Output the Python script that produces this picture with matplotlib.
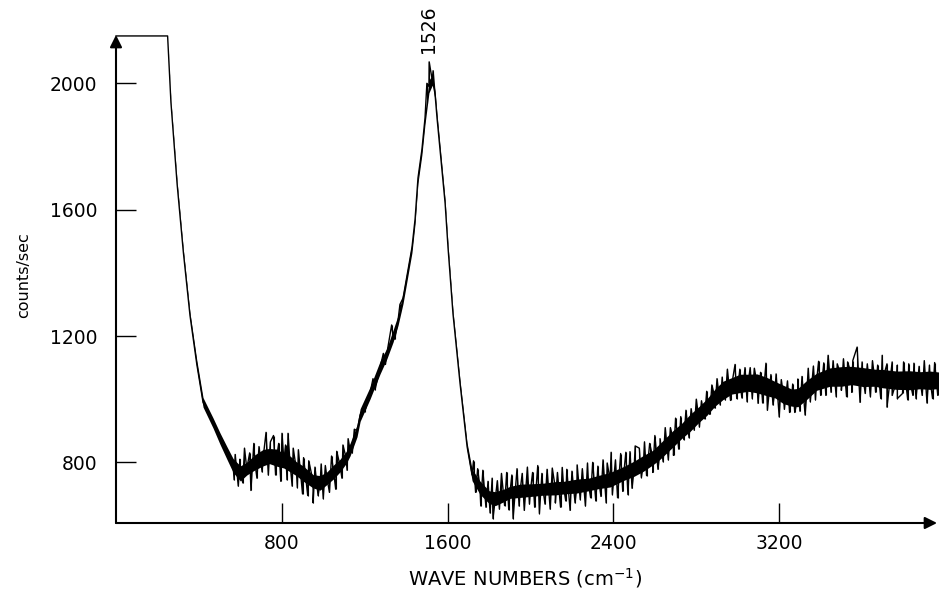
import numpy as np
import matplotlib
matplotlib.use("Agg")
import matplotlib.pyplot as plt

# spectrum: wavenumber (cm-1), mean counts/sec, half-width of the noise core
wn = [0, 249, 265, 295, 325, 357, 390, 420, 468, 502, 535, 565, 600, 631, 670, 710, 740,
      775, 810, 840, 870, 902, 951, 985, 1018, 1050, 1081, 1110, 1129, 1163, 1178, 1226,
      1274, 1307, 1337, 1361, 1385, 1404, 1428, 1443, 1457, 1476, 1491, 1510, 1526, 1540,
      1549, 1573, 1588, 1602, 1626, 1660, 1694, 1718, 1756, 1800, 1830, 1870, 1901, 1950,
      2000, 2060, 2120, 2160, 2224, 2280, 2330, 2384, 2450, 2500, 2545, 2590, 2625, 2688,
      2730, 2770, 2810, 2851, 2890, 2929, 2970, 3011, 3050, 3093, 3140, 3180, 3220, 3260,
      3290, 3334, 3380, 3445, 3500, 3550, 3604, 3660, 3700, 3768, 3830, 3880, 3928, 3971]
counts = [2150, 2150, 1940, 1680, 1465, 1265, 1110, 990, 925, 875, 830, 790, 765, 780, 800,
          815, 820, 815, 805, 795, 780, 765, 740, 735, 750, 770, 790, 815, 840, 900, 950,
          1020, 1100, 1145, 1200, 1250, 1320, 1390, 1480, 1570, 1700, 1790, 1890, 1990,
          2010, 1960, 1890, 1725, 1620, 1480, 1270, 1050, 850, 760, 720, 690, 685, 695, 705,
          710, 712, 715, 718, 720, 725, 730, 738, 745, 765, 780, 797, 815, 835, 875, 900,
          925, 950, 975, 1005, 1028, 1042, 1050, 1052, 1050, 1040, 1030, 1015, 1005, 1005,
          1030, 1055, 1070, 1072, 1075, 1070, 1068, 1065, 1060, 1060, 1060, 1060, 1060]
spread = [0, 0, 6, 8, 8, 9, 13, 15, 16, 18, 20, 22, 24, 20, 24, 26, 24, 27, 23, 25, 22,
          24, 21, 23, 20, 22, 20, 19, 20, 19, 20, 19, 20, 17, 19, 16, 17, 16, 16, 14, 16, 16,
          19, 20, 16, 14, 13, 12, 11, 10, 10, 10, 12, 18, 21, 20, 22, 20, 19, 21, 20, 19, 21,
          20, 22, 20, 21, 23, 22, 24, 25, 23, 25, 26, 24, 27, 25, 26, 27, 29, 26, 29, 27, 30,
          29, 26, 29, 27, 29, 30, 27, 29, 31, 29, 30, 27, 29, 29, 30, 27, 29, 26]

# noise excursions: wavenumber and extreme value
spike_wn = [575, 598, 620, 645, 665, 690, 724, 745, 760, 785, 801, 818, 830, 855, 880, 905,
            930, 960, 990, 1010, 1040, 1065, 1095, 1120,
            570, 590, 612, 651, 680, 705, 735, 770, 795, 825, 850, 875, 900, 925, 951, 975,
            1000, 1030, 1060, 1090, 1115,
            1150, 1190, 1240, 1290, 1330, 1370, 1140, 1200, 1250, 1300, 1345,
            1500, 1511, 1530,
            1725, 1745, 1770, 1795, 1815, 1840, 1860, 1885, 1910, 1935, 1960, 1985, 2010,
            2035, 2055, 2080, 2105, 2130, 2153, 2175, 2200, 2225, 2250, 2275, 2300, 2325,
            2350, 2370, 2389, 2410, 2435, 2460, 2480, 2505,
            1735, 1760, 1785, 1805, 1819, 1850, 1875, 1895, 1916, 1945, 1970, 1995, 2020,
            2043, 2070, 2095, 2120, 2145, 2170, 2191, 2215, 2240, 2265, 2290, 2315, 2340,
            2365, 2395, 2420, 2445, 2470, 2490,
            2525, 2550, 2575, 2600, 2625, 2650, 2675, 2700, 2725, 2750, 2775, 2800, 2825,
            2850, 2875, 2900, 2925, 2950, 2987, 3010, 3035, 3060, 3080, 3110, 3136, 3160,
            3185, 3210, 3240, 3265, 3290, 3310, 3340, 3365, 3390, 3415, 3436, 3460, 3480,
            3510, 3530, 3555, 3576, 3600, 3625, 3650, 3675, 3697, 3720, 3745, 3770, 3800,
            3825, 3850, 3875, 3900, 3925, 3950,
            2535, 2560, 2590, 2615, 2640, 2665, 2690, 2715, 2740, 2765, 2790, 2815, 2840,
            2865, 2890, 2915, 2940, 2965, 2995, 3020, 3045, 3070, 3098, 3120, 3143, 3170,
            3200, 3225, 3250, 3275, 3300, 3325, 3350, 3375, 3400, 3425, 3450, 3475, 3500,
            3525, 3550, 3590, 3615, 3640, 3665, 3690, 3720, 3745, 3770, 3795, 3820, 3845,
            3860, 3890, 3913, 3940, 3965]
spike_tip = [825, 810, 845, 830, 860, 850, 895, 865, 885, 860, 892, 855, 892, 845, 840, 815,
             805, 785, 795, 790, 820, 835, 855, 875,
             745, 725, 735, 711, 750, 770, 760, 760, 740, 745, 725, 720, 700, 695, 672, 695,
             685, 705, 715, 750, 775,
             905, 965, 1065, 1145, 1235, 1300, 830, 960, 1030, 1110, 1190,
             2000, 2068, 2040,
             805, 780, 775, 740, 750, 742, 765, 768, 760, 780, 765, 785, 768,
             790, 765, 778, 782, 768, 784, 778, 772, 792, 780, 798, 800, 788,
             808, 798, 832, 808, 828, 832, 834, 852,
             705, 662, 658, 640, 622, 652, 663, 650, 622, 662, 648, 668, 658,
             638, 668, 652, 672, 658, 678, 648, 672, 682, 662, 688, 678, 692,
             672, 698, 688, 708, 698, 718,
             845, 865, 860, 885, 875, 910, 910, 940, 945, 965, 970, 1000, 995,
             1025, 1045, 1065, 1070, 1095, 1110, 1095, 1100, 1100, 1098, 1085, 1114, 1078,
             1080, 1062, 1058, 1048, 1064, 1072, 1098, 1105, 1120, 1115, 1139, 1122, 1112,
             1128, 1118, 1122, 1165, 1118, 1112, 1122, 1108, 1139, 1112, 1118, 1108, 1118,
             1112, 1114, 1104, 1122, 1108, 1116,
             752, 758, 768, 778, 802, 808, 822, 842, 872, 878, 902, 912, 938,
             952, 972, 982, 998, 996, 1002, 1004, 992, 1002, 987, 988, 965, 982,
             944, 968, 958, 958, 962, 950, 992, 998, 1012, 1012, 1022, 1008, 1028,
             1008, 1022, 990, 1018, 1008, 1022, 1002, 975, 1012, 1002, 1018, 998, 1012,
             1002, 1012, 988, 1002, 1012]

xticks = [800, 1600, 2400, 3200]
yticks = [800, 1200, 1600, 2000]
peak_label = "1526"

wn = np.array(wn, float)
counts = np.array(counts, float)
spread = np.array(spread, float)

# one pen trace through the read means and noise extremes, in wavenumber order
tr_x = np.concatenate([wn, spike_wn])
tr_y = np.concatenate([counts, spike_tip])
order = np.argsort(tr_x, kind="stable")

fig = plt.figure(figsize=(9.39, 5.89), dpi=100)
ax = fig.add_axes([116 / 939, 1 - 523 / 589, 823 / 939, 488 / 589])
ax.set_xlim(0, 3971)
ax.set_ylim(608, 2153)

ax.fill_between(wn, counts - spread, counts + spread, color="black", lw=0, clip_on=False)
ax.plot(tr_x[order], tr_y[order], color="black", lw=1.0, clip_on=False)
base = np.interp(spike_wn, wn, counts)
ax.vlines(spike_wn, base, spike_tip, color="black", lw=0.8)

for s in ax.spines.values():
    s.set_visible(False)
arrow = dict(arrowstyle="-|>", color="black", lw=1.5, mutation_scale=18, shrinkA=0, shrinkB=0)
ax.annotate("", xy=(0.9976, 0), xytext=(0, 0), xycoords="axes fraction",
            textcoords="axes fraction", arrowprops=arrow)
ax.annotate("", xy=(0, 1.0), xytext=(0, 0), xycoords="axes fraction",
            textcoords="axes fraction", arrowprops=arrow)

ax.set_xticks(xticks)
ax.set_yticks(yticks)
ax.tick_params(direction="in", length=14.4, width=1.0, labelsize=13.5)
ax.tick_params(axis="x", pad=8)
ax.tick_params(axis="y", pad=13.5)

ax.text(1510, 2096, peak_label, rotation=90, ha="center", va="bottom", fontsize=13.5)
fig.text(525 / 939, 1 - 578 / 589, "WAVE NUMBERS (cm$^{-1}$)", ha="center", va="center",
         fontsize=14)
fig.text(24 / 939, 1 - 275 / 589, "counts/sec", rotation=90, ha="center", va="center",
         fontsize=11.5)

fig.savefig("out.png", dpi=100)
